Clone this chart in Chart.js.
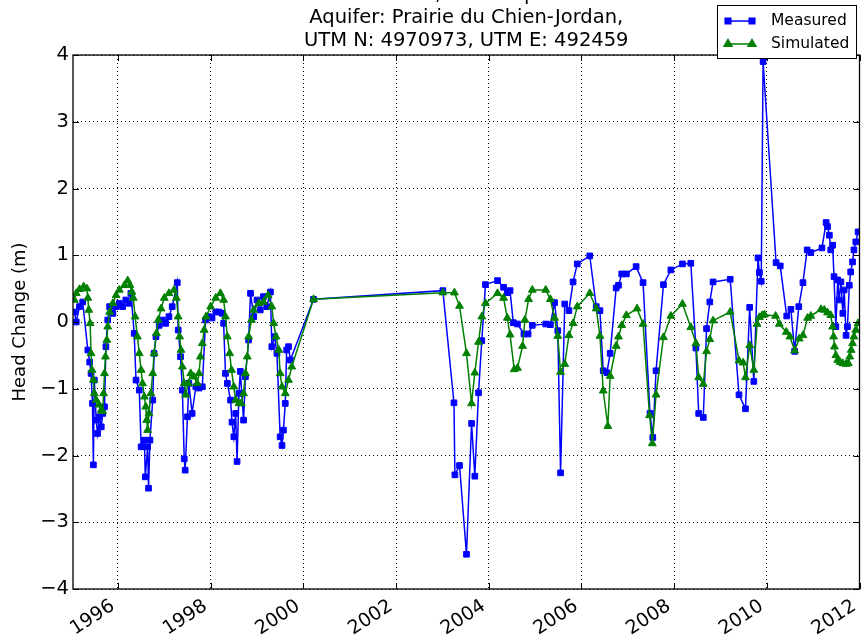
<!DOCTYPE html>
<html>
<head>
<meta charset="utf-8">
<script src="https://cdn.jsdelivr.net/npm/chart.js@4/dist/chart.umd.min.js"></script>
<style>
  html, body { margin: 0; padding: 0; background: #fff; }
  #wrap { width: 865px; height: 636px; position: relative; }
</style>
</head>
<body>
<div id="wrap"><canvas id="chart"></canvas></div>
<script>
// title lines (first one runs off the top of the figure)
const titleLines = [
  'ObWell: 19003, MN Unique: 200001',
  'Aquifer: Prairie du Chien-Jordan,',
  'UTM N: 4970973, UTM E: 492459'
];
const seriesNames = ['Measured', 'Simulated'];

// measured head change, decimal year / metres
const measuredYears = [
  1995.06, 1995.10, 1995.17, 1995.24, 1995.35, 1995.39, 1995.42, 1995.45, 1995.47, 1995.49,
  1995.53, 1995.56, 1995.60, 1995.64, 1995.67, 1995.71, 1995.74, 1995.78, 1995.82, 1995.89,
  1995.96, 1996.03, 1996.10, 1996.17, 1996.24, 1996.28, 1996.35, 1996.39, 1996.46, 1996.50,
  1996.57, 1996.59, 1996.64, 1996.66, 1996.69, 1996.75, 1996.78, 1996.82, 1996.89, 1996.96,
  1997.03, 1997.10, 1997.17, 1997.28, 1997.30, 1997.35, 1997.39, 1997.43, 1997.45, 1997.50,
  1997.53, 1997.60, 1997.68, 1997.75, 1997.82, 1997.89, 1997.96, 1998.03, 1998.11, 1998.18,
  1998.25, 1998.28, 1998.32, 1998.36, 1998.43, 1998.46, 1998.50, 1998.54, 1998.57, 1998.61,
  1998.64, 1998.71, 1998.75, 1998.82, 1998.86, 1998.93, 1999.00, 1999.07, 1999.14, 1999.21,
  1999.29, 1999.32, 1999.38, 1999.43, 1999.50, 1999.54, 1999.57, 1999.61, 1999.64, 1999.68,
  1999.72, 2000.22,
  2003.01, 2003.25, 2003.27, 2003.37, 2003.52, 2003.63, 2003.70, 2003.78, 2003.85, 2003.93,
  2004.19, 2004.32, 2004.40, 2004.46, 2004.53, 2004.62, 2004.76, 2004.85, 2004.94, 2005.23,
  2005.33, 2005.42, 2005.49, 2005.55, 2005.64, 2005.73, 2005.82, 2005.91, 2006.18, 2006.32,
  2006.40, 2006.47, 2006.55, 2006.62, 2006.75, 2006.80, 2006.87, 2006.97, 2007.18, 2007.33,
  2007.48, 2007.54, 2007.61, 2007.77, 2007.93, 2008.18, 2008.36, 2008.47, 2008.53, 2008.63,
  2008.70, 2008.77, 2008.84, 2009.21, 2009.40, 2009.54, 2009.63, 2009.72, 2009.81, 2009.84,
  2009.88, 2009.92, 2010.20, 2010.29, 2010.43, 2010.52, 2010.60, 2010.69, 2010.78, 2010.87,
  2010.95, 2011.19, 2011.28, 2011.31, 2011.35, 2011.38, 2011.42, 2011.45, 2011.49, 2011.53,
  2011.56, 2011.60, 2011.64, 2011.67, 2011.71, 2011.74, 2011.78, 2011.81, 2011.85, 2011.88,
  2011.92, 2011.97
];
const measuredHead = [
  0.15, 0.00, 0.23, 0.30, -0.42, -0.60, -0.77, -1.22, -2.14, -0.87,
  -1.47, -1.67, -1.42, -1.57, -1.37, -1.27, -0.37, 0.03, 0.23, 0.13,
  0.23, 0.28, 0.23, 0.33, 0.28, 0.43, -0.17, -0.87, -1.02, -1.87,
  -1.77, -2.32, -1.87, -2.49, -1.77, -1.17, -0.47, -0.22, -0.05, 0.03,
  -0.02, 0.08, 0.23, 0.59, -0.12, -0.52, -1.02, -2.05, -2.22, -1.42,
  -0.92, -1.37, -0.97, -0.99, -0.97, 0.03, 0.08, 0.06, 0.15, 0.15,
  0.13, -0.02, -0.77, -0.92, -1.17, -1.50, -1.72, -1.37, -2.09, -1.07,
  -0.74, -1.47, -0.82, -0.27, 0.43, 0.08, 0.33, 0.18, 0.38, 0.23,
  0.45, -0.37, -0.22, -0.47, -1.72, -1.85, -1.62, -1.22, -0.42, -0.37,
  -0.57, 0.34,
  0.47, -1.21, -2.29, -2.15, -3.48, -1.52, -2.31, -1.06, -0.28, 0.56,
  0.62, 0.52, 0.44, 0.47, -0.01, -0.03, -0.18, -0.18, -0.05, -0.03,
  -0.04, 0.29, -0.13, -2.26, 0.27, 0.17, 0.60, 0.87, 0.99, 0.23,
  0.17, -0.73, -0.76, -0.47, 0.51, 0.55, 0.72, 0.72, 0.83, 0.59,
  -1.37, -1.73, -0.73, 0.56, 0.78, 0.87, 0.88, -0.39, -1.37, -1.43,
  -0.10, 0.30, 0.60, 0.64, -1.09, -1.30, 0.22, -0.89, 0.96, 0.74,
  0.61, 3.90, 0.89, 0.84, 0.09, 0.19, -0.44, 0.23, 0.59, 1.08,
  1.04, 1.11, 1.49, 1.43, 1.30, 1.08, 1.15, 0.68, -0.07, 0.63,
  0.33, 0.60, 0.13, 0.48, -0.20, -0.07, 0.55, 0.75, 0.90, 1.08,
  1.20, 1.35
];

// simulated head change
const simulatedYears = [
  1995.06, 1995.10, 1995.17, 1995.26, 1995.33, 1995.35, 1995.37, 1995.40, 1995.42, 1995.44,
  1995.47, 1995.49, 1995.53, 1995.59, 1995.64, 1995.67, 1995.69, 1995.71, 1995.73, 1995.76,
  1995.78, 1995.82, 1995.89, 1995.96, 1996.03, 1996.14, 1996.21, 1996.26, 1996.30, 1996.33,
  1996.37, 1996.42, 1996.46, 1996.50, 1996.53, 1996.57, 1996.60, 1996.62, 1996.64, 1996.67,
  1996.71, 1996.75, 1996.78, 1996.83, 1996.87, 1996.93, 1997.00, 1997.10, 1997.21, 1997.26,
  1997.30, 1997.33, 1997.36, 1997.39, 1997.43, 1997.46, 1997.52, 1997.57, 1997.64, 1997.71,
  1997.75, 1997.78, 1997.82, 1997.86, 1997.90, 1998.00, 1998.11, 1998.21, 1998.28, 1998.32,
  1998.36, 1998.41, 1998.45, 1998.50, 1998.54, 1998.61, 1998.66, 1998.71, 1998.75, 1998.79,
  1998.82, 1998.88, 1998.93, 1999.04, 1999.14, 1999.24, 1999.32, 1999.36, 1999.41, 1999.47,
  1999.50, 1999.54, 1999.61, 1999.68, 1999.75, 2000.22,
  2003.01, 2003.26, 2003.37, 2003.52, 2003.63, 2003.70, 2003.78, 2003.85, 2003.93, 2004.19,
  2004.32, 2004.40, 2004.46, 2004.55, 2004.62, 2004.73, 2004.78, 2004.86, 2004.94, 2005.23,
  2005.33, 2005.42, 2005.49, 2005.55, 2005.64, 2005.73, 2005.82, 2005.91, 2006.18, 2006.32,
  2006.40, 2006.47, 2006.57, 2006.62, 2006.75, 2006.80, 2006.87, 2006.97, 2007.20, 2007.33,
  2007.47, 2007.53, 2007.61, 2007.77, 2007.93, 2008.18, 2008.36, 2008.47, 2008.53, 2008.63,
  2008.70, 2008.77, 2008.84, 2009.21, 2009.40, 2009.49, 2009.54, 2009.63, 2009.72, 2009.79,
  2009.84, 2009.90, 2009.95, 2010.19, 2010.27, 2010.42, 2010.50, 2010.60, 2010.70, 2010.78,
  2010.88, 2010.95, 2011.17, 2011.24, 2011.31, 2011.38, 2011.42, 2011.44, 2011.46, 2011.49,
  2011.53, 2011.58, 2011.64, 2011.71, 2011.76, 2011.79, 2011.82, 2011.85, 2011.88, 2011.92,
  2011.97
];
const simulatedHead = [
  0.33, 0.43, 0.49, 0.53, 0.50, 0.36, 0.18, -0.02, -0.47, -0.72,
  -0.87, -1.07, -1.17, -1.24, -1.32, -1.34, -1.07, -0.77, -0.52, -0.27,
  -0.07, 0.15, 0.28, 0.40, 0.48, 0.55, 0.62, 0.55, 0.45, 0.36,
  0.08, -0.22, -0.47, -0.72, -0.92, -1.12, -1.27, -1.47, -1.62, -1.37,
  -1.07, -0.77, -0.47, -0.17, 0.03, 0.20, 0.36, 0.43, 0.48, 0.36,
  0.08, -0.22, -0.42, -0.67, -0.92, -1.09, -0.92, -0.77, -0.82, -0.92,
  -0.77, -0.52, -0.32, -0.12, 0.08, 0.23, 0.36, 0.43, 0.33, 0.08,
  -0.22, -0.47, -0.72, -0.97, -1.17, -1.22, -1.22, -1.07, -0.77, -0.52,
  -0.22, 0.03, 0.18, 0.28, 0.30, 0.40, 0.23, -0.02, -0.22, -0.42,
  -0.77, -0.97, -1.07, -0.87, -0.67, 0.34,
  0.44, 0.44, 0.24, -0.47, -1.22, -0.76, -0.30, 0.08, 0.28, 0.43,
  0.36, 0.06, -0.19, -0.71, -0.69, -0.36, 0.03, 0.34, 0.48, 0.48,
  0.34, 0.06, -0.21, -0.75, -0.63, -0.20, -0.02, 0.23, 0.43, 0.20,
  -0.21, -1.03, -1.56, -0.81, -0.36, -0.22, -0.05, 0.10, 0.20, -0.03,
  -1.40, -1.82, -1.09, -0.23, 0.09, 0.27, -0.08, -0.32, -0.83, -0.93,
  -0.44, -0.26, 0.02, 0.15, -0.58, -0.61, -0.83, -0.35, -0.72, -0.03,
  0.07, 0.10, 0.11, 0.09, -0.03, -0.15, -0.22, -0.43, -0.25, -0.20,
  0.06, 0.09, 0.19, 0.18, 0.14, 0.10, -0.07, -0.22, -0.37, -0.50,
  -0.57, -0.60, -0.62, -0.63, -0.62, -0.52, -0.42, -0.32, -0.22, -0.12,
  -0.02
];

const xMin = 1995.03, xMax = 2012;
const yTicksMin = -4, yTicksMax = 4;

Chart.defaults.font.family = '"DejaVu Sans", sans-serif';
Chart.defaults.color = '#000';

const measuredPoints = measuredYears.map((x, i) => ({ x: x, y: measuredHead[i] }));
const simulatedPoints = simulatedYears.map((x, i) => ({ x: x, y: simulatedHead[i] }));

const BLUE = '#0000ff', GREEN = '#008000';

// matplotlib-ish frame with inward ticks
const frameTicks = {
  id: 'frameTicks',
  afterDatasetsDraw(chart) {
    const { ctx, chartArea: a, scales: { x, y } } = chart;
    ctx.save();
    ctx.strokeStyle = '#000';
    ctx.lineWidth = 1;
    ctx.beginPath();
    x.ticks.forEach(t => {
      const px = Math.round(x.getPixelForValue(t.value)) + 0.5;
      ctx.moveTo(px, a.bottom); ctx.lineTo(px, a.bottom - 6);
      ctx.moveTo(px, a.top); ctx.lineTo(px, a.top + 6);
    });
    y.ticks.forEach(t => {
      const py = Math.round(y.getPixelForValue(t.value)) + 0.5;
      ctx.moveTo(a.left, py); ctx.lineTo(a.left + 6, py);
      ctx.moveTo(a.right, py); ctx.lineTo(a.right - 6, py);
    });
    ctx.stroke();
    ctx.lineWidth = 1.3;
    ctx.strokeRect(a.left, a.top, a.right - a.left, a.bottom - a.top);
    ctx.restore();
  }
};

// slanted x tick labels, right edge of the rotated box on the tick
const slantedYears = {
  id: 'slantedYears',
  afterDraw(chart) {
    const { ctx, chartArea: a, scales: { x } } = chart;
    const size = 19, boxH = size * 1.164, th = 33 * Math.PI / 180;
    ctx.save();
    ctx.font = size + 'px "DejaVu Sans"';
    ctx.fillStyle = '#000';
    ctx.textAlign = 'left';
    ctx.textBaseline = 'alphabetic';
    x.ticks.forEach(t => {
      const label = t.value.toFixed(0);
      const w = ctx.measureText(label).width;
      const px = x.getPixelForValue(t.value);
      const ox = px - (w * Math.cos(th) + boxH * Math.sin(th));
      const oy = a.bottom + 5 + w * Math.sin(th);
      ctx.save();
      ctx.translate(ox, oy);
      ctx.rotate(-th);
      ctx.fillText(label, 0, size * 0.928);
      ctx.restore();
    });
    ctx.restore();
  }
};

const titleAndLegend = {
  id: 'titleAndLegend',
  afterDraw(chart) {
    const { ctx, chartArea: a } = chart;
    ctx.save();
    // title
    ctx.fillStyle = '#000';
    ctx.font = '19.5px "DejaVu Sans"';
    ctx.textAlign = 'center';
    ctx.textBaseline = 'middle';
    const cx = (a.left + a.right) / 2;
    titleLines.forEach((line, i) => {
      ctx.fillText(line, cx, a.top - 14 - (titleLines.length - 1 - i) * 23);
    });

    // legend box
    const bx = 717.5, by = 5.5, bw = 139, bh = 53;
    ctx.fillStyle = '#fff';
    ctx.fillRect(bx, by, bw, bh);
    ctx.strokeStyle = '#000';
    ctx.lineWidth = 1;
    ctx.strokeRect(bx, by, bw, bh);
    const rows = [
      { name: seriesNames[0], color: BLUE, style: 'rect', y: 21 },
      { name: seriesNames[1], color: GREEN, style: 'triangle', y: 44 }
    ];
    rows.forEach(r => {
      ctx.strokeStyle = r.color;
      ctx.fillStyle = r.color;
      ctx.lineWidth = 1.5;
      ctx.beginPath();
      ctx.moveTo(728, r.y); ctx.lineTo(752, r.y);
      ctx.stroke();
      [728, 752].forEach(px => {
        Chart.helpers.drawPoint(ctx, {
          pointStyle: r.style, radius: r.style === 'rect' ? 4 : 4.5,
          borderWidth: 1, rotation: 0
        }, px, r.y);
      });
      ctx.fillStyle = '#000';
      ctx.font = '15.5px "DejaVu Sans"';
      ctx.textAlign = 'left';
      ctx.textBaseline = 'middle';
      ctx.fillText(r.name, 771, r.y);
    });
    ctx.restore();
  }
};

new Chart(document.getElementById('chart').getContext('2d'), {
  type: 'line',
  data: {
    datasets: [
      {
        label: seriesNames[0],
        data: measuredPoints,
        borderColor: BLUE,
        backgroundColor: BLUE,
        borderWidth: 1.5,
        pointStyle: 'rect',
        pointRadius: 4,
        pointBorderWidth: 1,
        tension: 0,
        fill: false,
        order: 1
      },
      {
        label: seriesNames[1],
        data: simulatedPoints,
        borderColor: GREEN,
        backgroundColor: GREEN,
        borderWidth: 1.5,
        pointStyle: 'triangle',
        pointRadius: 4.5,
        pointBorderWidth: 1,
        tension: 0,
        fill: false,
        order: 0
      }
    ]
  },
  options: {
    responsive: true,
    maintainAspectRatio: false,
    animation: false,
    events: [],
    layout: { padding: { top: 55, right: 1, left: 0, bottom: 0 } },
    plugins: {
      legend: { display: false },
      title: { display: false },
      tooltip: { enabled: false }
    },
    scales: {
      x: {
        type: 'linear',
        min: xMin,
        max: xMax,
        grid: { color: '#000', lineWidth: 1, drawTicks: false },
        border: { display: false, dash: [1, 3] },
        ticks: {
          display: false,
          stepSize: 2,
          includeBounds: false,
          autoSkip: false
        },
        afterFit(scale) {
          scale.height = 47;
          scale.paddingLeft = 0;
          scale.paddingRight = 0;
        }
      },
      y: {
        min: yTicksMin,
        max: yTicksMax,
        grid: { color: '#000', lineWidth: 1, drawTicks: false },
        border: { display: false, dash: [1, 3] },
        ticks: {
          stepSize: 1,
          padding: 4,
          font: { size: 19.5 },
          callback: v => (v < 0 ? '\u2212' + Math.abs(v) : String(v))
        },
        title: {
          display: true,
          text: 'Head Change (m)',
          font: { size: 18 },
          padding: { top: 10, bottom: 0 }
        },
        afterFit(scale) {
          scale.width = 73;
          scale.paddingTop = 0;
          scale.paddingBottom = 0;
        }
      }
    }
  },
  plugins: [frameTicks, slantedYears, titleAndLegend]
});
</script>
</body>
</html>
